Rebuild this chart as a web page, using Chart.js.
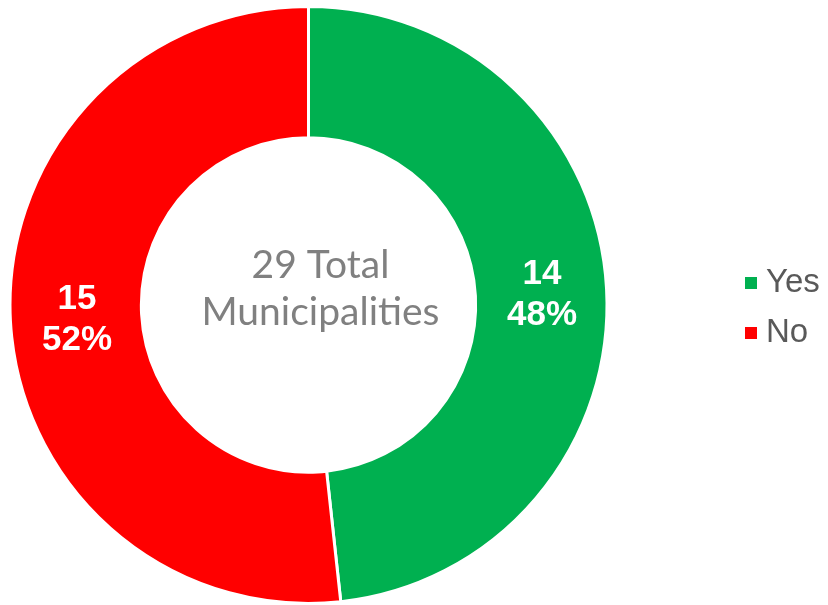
<!DOCTYPE html>
<html>
<head>
<meta charset="utf-8">
<script src="https://cdn.jsdelivr.net/npm/chart.js@4"></script>
<style>
  html, body { margin: 0; padding: 0; background: #fff; }
  #wrap { width: 828px; height: 605px; position: relative; }
</style>
</head>
<body>
<div id="wrap"><canvas id="donut"></canvas></div>
<script>
const categories = ['Yes', 'No'];
const counts = [14, 15];
const colors = ['#00B050', '#FF0000'];
const centerLines = ['29 Total', 'Municipalities'];

const total = counts.reduce((a, b) => a + b, 0);

// slice labels: count + percent, drawn in the middle of each arc
const sliceLabels = {
    id: 'sliceLabels',
    afterDatasetsDraw(chart) {
        const ctx = chart.ctx;
        const meta = chart.getDatasetMeta(0);
        ctx.save();
        ctx.fillStyle = '#fff';
        ctx.font = 'bold 35px "Liberation Sans", Arial, sans-serif';
        ctx.textAlign = 'center';
        ctx.textBaseline = 'middle';
        meta.data.forEach((arc, i) => {
            const p = arc.tooltipPosition();
            const pct = Math.round(counts[i] / total * 100) + '%';
            ctx.fillText(String(counts[i]), p.x + 1, p.y - 18);
            ctx.fillText(pct, p.x + 1, p.y + 23);
        });
        ctx.restore();
    }
};

// text in the hole
const centerText = {
    id: 'centerText',
    afterDraw(chart) {
        const ctx = chart.ctx;
        const arc = chart.getDatasetMeta(0).data[0];
        ctx.save();
        ctx.fillStyle = '#808080';
        ctx.font = '39px Lato, "Open Sans", sans-serif';
        ctx.textAlign = 'center';
        ctx.textBaseline = 'middle';
        ctx.fillText(centerLines[0], arc.x + 12, arc.y - 40);
        ctx.fillText(centerLines[1], arc.x + 12, arc.y + 7);
        ctx.restore();
    }
};

// legend on the right
const sideLegend = {
    id: 'sideLegend',
    afterDraw(chart) {
        const ctx = chart.ctx;
        ctx.save();
        ctx.font = '33px "Liberation Sans", Arial, sans-serif';
        ctx.textBaseline = 'middle';
        categories.forEach((name, i) => {
            const y = 283 + i * 50;
            ctx.fillStyle = colors[i];
            ctx.fillRect(745, y - 6, 12, 12);
            ctx.fillStyle = '#595959';
            ctx.fillText(name, 766, y);
        });
        ctx.restore();
    }
};

new Chart(document.getElementById('donut'), {
    type: 'doughnut',
    data: {
        labels: categories,
        datasets: [{
            data: counts,
            backgroundColor: colors,
            borderColor: '#fff',
            borderWidth: 3
        }]
    },
    options: {
        responsive: true,
        maintainAspectRatio: false,
        animation: false,
        cutout: '56%',
        layout: {
            padding: { top: 5, bottom: 0, left: 7, right: 218 }
        },
        plugins: {
            legend: { display: false },
            tooltip: { enabled: false }
        }
    },
    plugins: [sliceLabels, centerText, sideLegend]
});
</script>
</body>
</html>
